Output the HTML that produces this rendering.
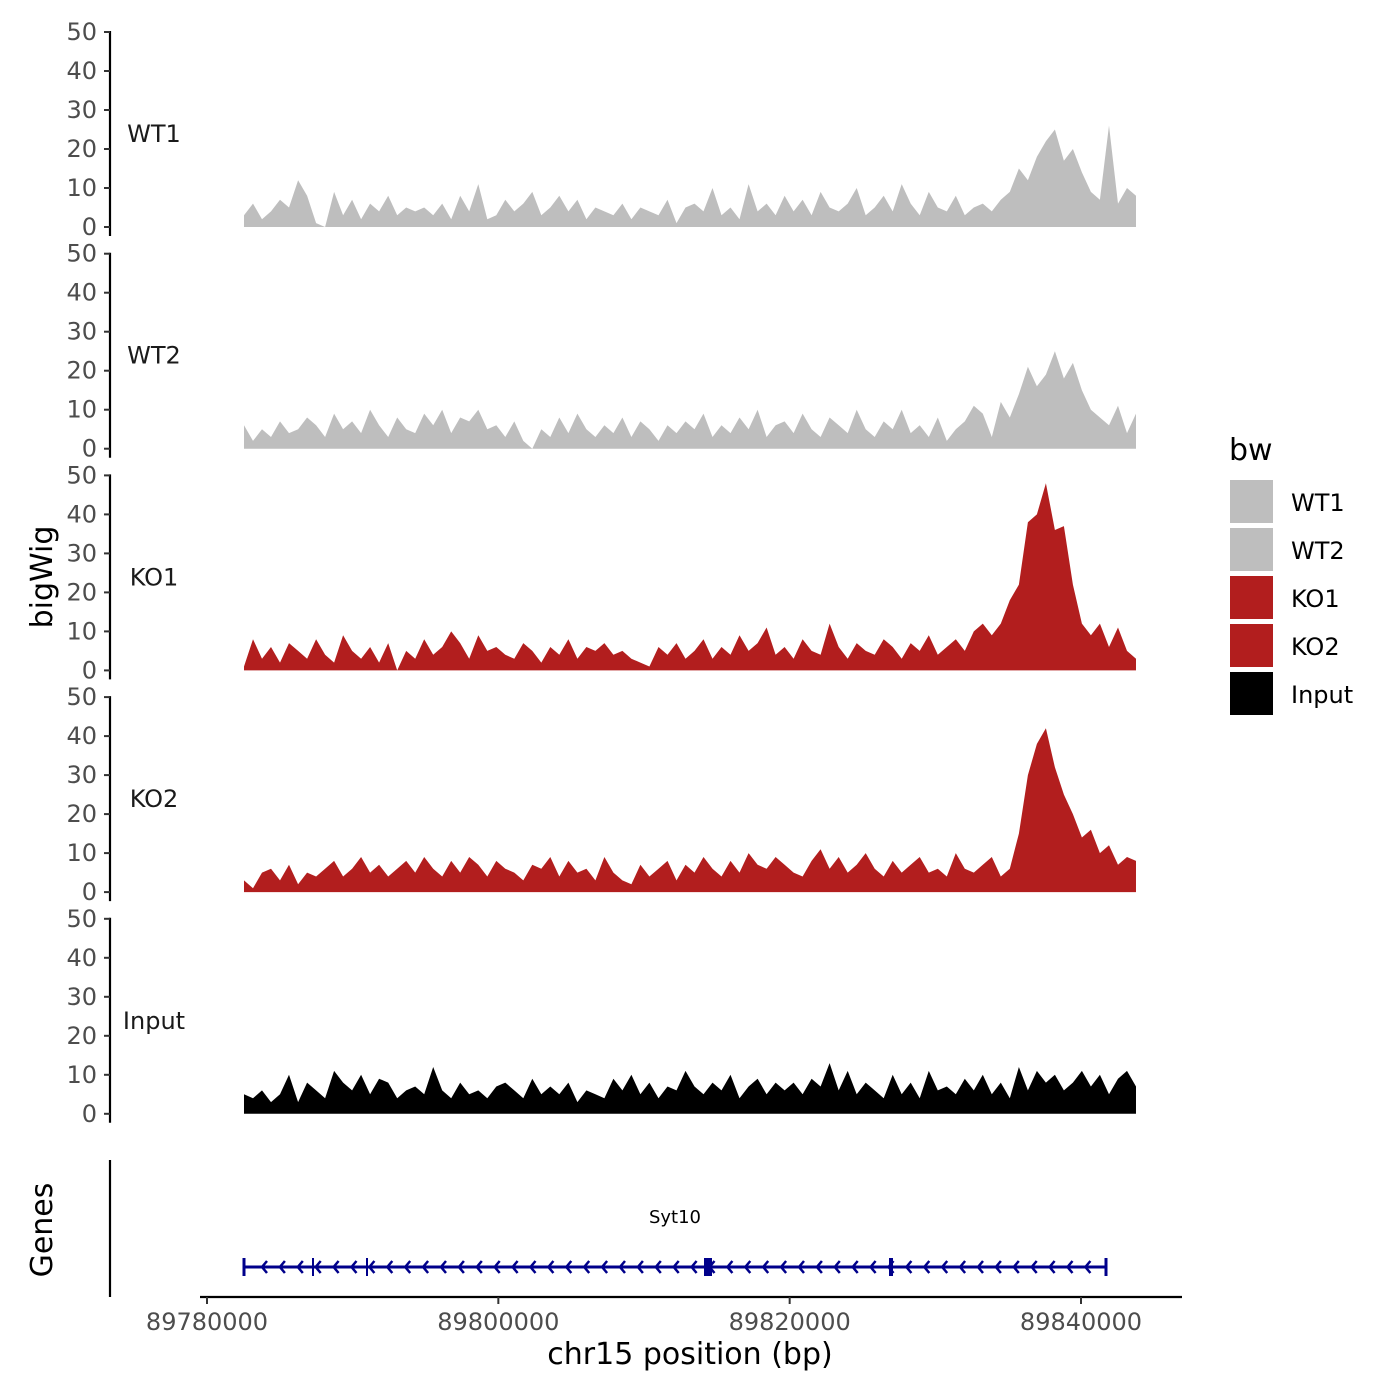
<!DOCTYPE html>
<html><head><meta charset="utf-8"><style>
html,body{margin:0;padding:0;background:#fff;}
svg{display:block;font-family:"DejaVu Sans","Liberation Sans",sans-serif;}
</style></head><body>
<svg id="chart" width="1400" height="1400" viewBox="0 0 1400 1400"></svg>
<script>
const NS="http://www.w3.org/2000/svg";
const trackNames=["WT1","WT2","KO1","KO2","Input"];
const trackColors=["#bebebe","#bebebe","#b21e1e","#b21e1e","#000000"];
const yTicks=[0,10,20,30,40,50];
const xTicks=[89780000,89800000,89820000,89840000];
const dataStart=89782540, dataEnd=89843775;
const wt1=[3,6,2,4,7,5,12,8,1,0,9,3,7,2,6,4,8,3,5,4,5,3,6,2,8,4,11,2,3,7,4,6,9,3,5,8,4,7,2,5,4,3,6,2,5,4,3,7,1,5,6,4,10,3,5,2,11,4,6,3,8,4,7,3,9,5,4,6,10,3,5,8,4,11,6,3,9,5,4,8,3,5,6,4,7,9,15,12,18,22,25,17,20,14,9,7,26,6,10,8];
const wt2=[6,2,5,3,7,4,5,8,6,3,9,5,7,4,10,6,3,8,5,4,9,6,10,4,8,7,10,5,6,3,7,2,0,5,3,8,4,9,5,3,6,4,8,3,7,5,2,6,4,7,5,9,3,6,4,8,5,10,3,6,7,4,9,5,3,8,6,4,10,5,3,7,5,10,4,6,3,8,2,5,7,11,9,3,12,8,14,21,16,19,25,18,22,15,10,8,6,11,4,9];
const ko1=[1,8,3,6,2,7,5,3,8,4,2,9,5,3,6,2,7,0,5,3,8,4,6,10,7,3,9,5,6,4,3,7,5,2,6,4,8,3,6,5,7,4,5,3,2,1,6,4,7,3,5,8,3,6,4,9,5,7,11,4,6,3,8,5,4,12,6,3,7,5,4,8,6,3,7,5,9,4,6,8,5,10,12,9,12,18,22,38,40,48,36,37,22,12,9,12,6,11,5,3];
const ko2=[3,1,5,6,3,7,2,5,4,6,8,4,6,9,5,7,4,6,8,5,9,6,4,8,5,9,7,4,8,6,5,3,7,6,9,4,8,5,6,3,9,5,3,2,7,4,6,8,3,7,5,9,6,4,8,5,10,7,6,9,7,5,4,8,11,6,9,5,7,10,6,4,8,5,7,9,5,6,4,10,6,5,7,9,4,6,15,30,38,42,32,25,20,14,16,10,12,7,9,8];
const input=[5,4,6,3,5,10,3,8,6,4,11,8,6,10,5,9,8,4,6,7,5,12,6,4,8,5,6,4,7,8,6,4,9,5,7,5,8,3,6,5,4,9,6,10,5,8,4,7,6,11,7,5,8,6,10,4,7,9,5,8,6,8,5,9,7,13,6,11,5,8,6,4,10,5,8,4,11,6,7,5,9,6,10,5,8,4,12,6,11,8,10,6,8,11,7,10,5,9,11,7];
const series=[wt1,wt2,ko1,ko2,input];
const svg=document.getElementById('chart');
function el(tag,attrs,parent,text){const e=document.createElementNS(NS,tag);for(const k in attrs)e.setAttribute(k,attrs[k]);if(text!==undefined)e.textContent=text;(parent||svg).appendChild(e);return e;}
const xPx=bp=>207+(bp-89780000)*(874/60000);
const baseY=i=>227+i*221.7;
const yPx=(i,v)=>baseY(i)-v*3.9;
for(let i=0;i<5;i++){
  const g=el('g',{});
  
  
  const ax=el('line',{x1:110,x2:110,y1:baseY(i)-196,y2:baseY(i)+9,stroke:'#000','stroke-width':2.2},g);
  
  
  yTicks.forEach(t=>{
    const y=yPx(i,t);
    el('line',{x1:104,x2:110,y1:y,y2:y,stroke:'#333','stroke-width':2},g);
    const tl=el('text',{x:97,y:y+8,'text-anchor':'end','font-size':24,fill:'#4d4d4d'},g,String(t));
    
    
  });
  const lab=el('text',{x:154,y:baseY(i)-85,'text-anchor':'middle','font-size':24,fill:'#1a1a1a'},g,trackNames[i]);
  
  
  const d=series[i];const n=d.length;
  let p='M'+xPx(dataStart)+','+baseY(i);
  d.forEach((v,j)=>{const bp=dataStart+(dataEnd-dataStart)*j/(n-1);p+=' L'+xPx(bp).toFixed(1)+','+yPx(i,v).toFixed(1);});
  p+=' L'+xPx(dataEnd)+','+baseY(i)+' Z';
  const a=el('path',{d:p,fill:trackColors[i]},g);
  
  
}
const yt=el('text',{transform:'translate(52,577) rotate(-90)','text-anchor':'middle','font-size':30,fill:'#000'},svg,'bigWig');


const gt=el('text',{transform:'translate(52,1230) rotate(-90)','text-anchor':'middle','font-size':30,fill:'#000'},svg,'Genes');


const gax=el('line',{x1:110,x2:110,y1:1160,y2:1297,stroke:'#000','stroke-width':2.2});


const gg=el('g',{});


el('line',{x1:244,x2:1106,y1:1267,y2:1267,stroke:'#00008b','stroke-width':3},gg);
for(let x=262;x<1100;x+=17.9){el('polyline',{points:(x+5)+',1261 '+x+',1267 '+(x+5)+',1273',fill:'none',stroke:'#00008b','stroke-width':2.5},gg);}
[[244,3],[313,2],[367,2],[708,8],[891,4],[1106,3]].forEach(e=>el('rect',{x:e[0]-e[1]/2,y:1258,width:e[1],height:18,fill:'#00008b'},gg));
const gl=el('text',{x:675,y:1223,'text-anchor':'middle','font-size':18,fill:'#000'},gg,'Syt10');


const xa=el('line',{x1:200,x2:1182,y1:1297,y2:1297,stroke:'#000','stroke-width':2.2});


xTicks.forEach(t=>{const x=xPx(t);el('line',{x1:x,x2:x,y1:1297,y2:1304,stroke:'#333','stroke-width':2});
  const tl=el('text',{x:x,y:1330,'text-anchor':'middle','font-size':24,fill:'#4d4d4d'},svg,String(t));
  
  });
const xt=el('text',{x:690,y:1364,'text-anchor':'middle','font-size':30,fill:'#000'},svg,'chr15 position (bp)');


const lg=el('g',{});


el('text',{x:1229,y:460,'font-size':30,fill:'#000'},lg,'bw');
trackNames.forEach((nm,i)=>{
  const y=480+i*48;
  const k=el('rect',{x:1230,y:y,width:43,height:43,fill:trackColors[i]},lg);
  
  
  const t=el('text',{x:1291,y:y+31,'font-size':24,fill:'#000'},lg,nm);
  
  
});
</script>
</body></html>
